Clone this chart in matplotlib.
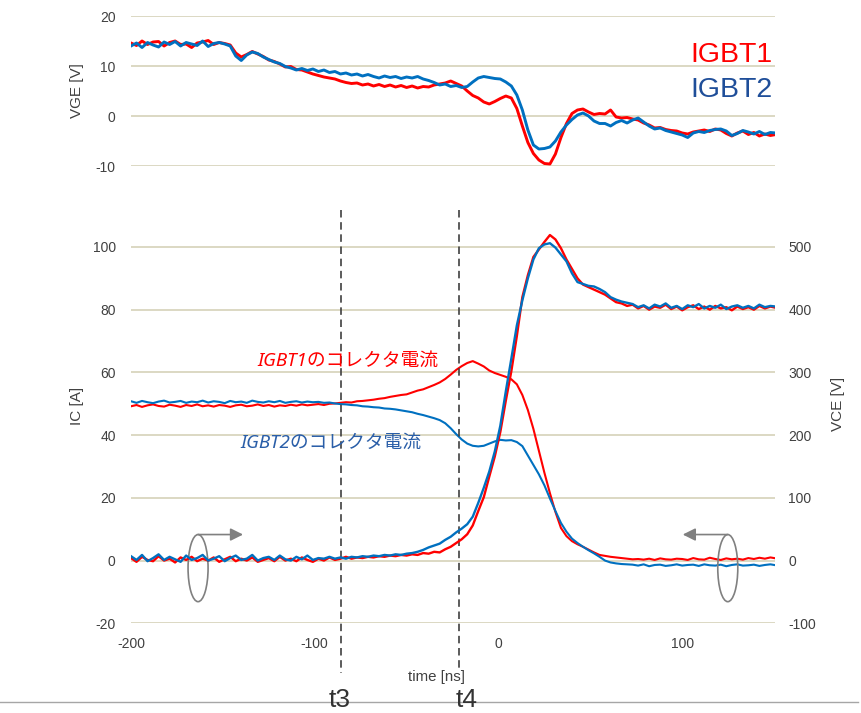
import numpy as np
import matplotlib
matplotlib.use("Agg")
import matplotlib.pyplot as plt
from matplotlib import font_manager
from matplotlib.patches import Ellipse
from matplotlib.lines import Line2D
from matplotlib import transforms

# ---------------- data ----------------
time_ns = np.arange(-200, 152, 3)  # sample grid [ns]

vge_igbt1 = [
    14.6, 14.1, 15.0, 14.3, 14.8, 14.9, 14.0, 14.7, 15.0, 14.3,
    14.4, 13.7, 14.6, 14.8, 15.1, 14.3, 14.7, 14.5, 14.2, 12.6,
    11.8, 12.3, 12.9, 12.4, 11.9, 11.2, 10.9, 10.4, 9.8, 9.9,
    9.3, 9.2, 8.8, 8.4, 8.1, 7.8, 7.6, 7.4, 7.0, 6.7,
    6.5, 6.6, 6.2, 6.4, 6.0, 6.3, 5.9, 6.2, 5.8, 6.1,
    5.7, 6.0, 5.6, 5.9, 5.8, 6.2, 6.4, 6.6, 7.0, 6.5,
    6.0, 5.0, 4.1, 3.6, 2.8, 2.4, 2.9, 3.5, 4.0, 3.6,
    1.5, -2.0, -5.3, -7.5, -8.8, -9.5, -9.6, -7.6, -4.3, -1.5,
    0.5, 1.2, 1.4, 0.8, 0.3, 0.5, 0.4, 1.2, -0.2, -0.4,
    -0.3, -0.6, -0.8, -1.4, -1.8, -2.4, -2.3, -2.7, -2.9, -3.0,
    -3.4, -3.6, -3.2, -3.0, -2.8, -3.1, -2.6, -2.8, -3.5, -4.0,
    -3.4, -3.0, -3.7, -3.3, -4.0, -3.6, -3.9, -3.7,
]
vge_igbt2 = [
    14.0, 14.6, 13.7, 14.7, 14.2, 13.8, 14.8, 14.3, 14.9, 14.0,
    14.7, 14.4, 14.1, 15.0, 13.9, 14.5, 14.7, 14.4, 14.0, 12.0,
    11.1, 12.2, 12.8, 12.5, 11.8, 11.3, 10.8, 10.5, 9.9, 9.6,
    9.2, 9.5, 9.1, 9.4, 8.9, 9.2, 8.7, 8.9, 8.4, 8.6,
    8.2, 8.4, 8.0, 8.3, 7.9, 7.6, 8.0, 7.7, 7.9, 7.5,
    7.8, 7.6, 7.9, 7.4, 7.1, 6.7, 6.2, 6.4, 5.9, 6.1,
    5.7, 5.9, 6.8, 7.6, 7.9, 7.7, 7.5, 7.4, 6.8, 6.0,
    4.2, 1.2, -2.8, -5.8, -6.6, -6.5, -6.2, -5.0, -3.2, -1.8,
    -0.7, 0.2, 0.6, 0.0, -1.0, -1.5, -1.5, -2.0, -1.3, -0.9,
    -1.4, -0.8, -0.4, -1.2, -2.0, -2.6, -2.4, -2.9, -3.2, -3.5,
    -3.8, -4.3, -3.4, -3.1, -3.3, -2.9, -2.7, -2.6, -3.0, -3.9,
    -3.5, -2.9, -3.2, -3.6, -3.1, -3.7, -3.3, -3.4,
]
ic_igbt1 = [
    49.2, 49.6, 49.0, 49.5, 49.8, 49.3, 49.1, 49.7, 49.4, 49.0,
    49.6, 49.3, 49.8, 49.2, 49.5, 49.1, 49.6, 49.4, 49.0, 49.5,
    49.7, 49.2, 49.4, 49.8, 49.3, 49.6, 49.1, 49.5, 49.3, 49.7,
    49.4, 49.8, 49.5, 49.7, 49.9, 49.6, 50.0, 50.1, 50.3, 50.5,
    50.4, 50.8, 50.9, 51.1, 51.3, 51.6, 51.8, 52.2, 52.5, 52.8,
    53.0, 53.6, 54.2, 54.6, 55.3, 56.0, 56.8, 57.9, 59.3, 60.8,
    62.0, 63.0, 63.6, 62.8, 61.9, 60.6, 59.8, 59.2, 58.6, 57.8,
    56.2, 52.8, 48.0, 42.0, 35.0, 28.0, 21.5, 15.5, 10.4, 7.8,
    6.2, 5.2, 4.4, 3.5, 2.6, 1.8, 1.5, 1.2, 1.0, 0.8,
    0.6, 0.4, 0.5, 0.3, 0.6, 0.2, 0.7, 0.4, 0.3, 0.6,
    0.5, 0.2, 0.8, 0.4, 0.3, 0.9, 0.5, 0.2, 0.7, 0.4,
    0.6, 0.3, 0.8, 0.5, 0.9, 0.6, 1.0, 0.7,
]
ic_igbt2 = [
    50.8, 50.3, 50.9, 50.5, 50.2, 50.7, 51.0, 50.4, 50.6, 50.9,
    50.3, 50.7, 50.5, 51.0, 50.4, 50.8, 50.6, 50.2, 50.9, 50.5,
    50.7, 50.3, 51.0, 50.6, 50.4, 50.8, 50.5, 50.9, 50.3, 50.6,
    50.8, 50.4, 50.7, 50.5, 50.6, 50.3, 50.4, 50.1, 49.9, 49.8,
    49.6, 49.5, 49.2, 49.1, 48.9, 48.8, 48.5, 48.4, 48.2, 47.9,
    47.6, 47.3, 46.8, 46.4, 45.9, 45.4, 44.8, 43.8, 42.2, 40.3,
    38.6, 37.3, 36.6, 36.4, 36.6, 37.3, 38.0, 38.5, 38.3, 38.4,
    37.8, 36.5, 33.5, 30.5, 27.5, 24.0, 19.8, 15.8, 12.0, 9.2,
    7.0, 5.6, 4.4, 3.3, 2.3, 1.2, 0.0, -0.6, -0.9, -1.1,
    -1.2, -1.3, -1.6, -1.2, -1.8, -1.4, -1.3, -1.7, -1.5, -1.2,
    -1.6, -1.4, -1.3, -1.7, -1.2, -1.5, -1.6, -1.3, -1.8, -1.4,
    -1.2, -1.6, -1.5, -1.3, -1.7, -1.4, -1.2, -1.5,
]
vce_igbt1 = [
    4, -2, 6, 1, -1, 7, 0, 3, -3, 5,
    1, 6, -1, 3, 0, 5, -2, 2, 6, -1,
    3, 0, 5, -2, 1, 4, -1, 6, 0, 3,
    -1, 5, 1, -2, 3, 0, 5, 1, 3, 6,
    3, 5, 4, 6, 5, 7, 6, 8, 7, 9,
    8, 10, 9, 12, 11, 14, 13, 18, 22, 28,
    34, 42, 56, 79, 101, 134, 166, 205, 255, 302,
    358, 420, 455, 484, 496, 508, 519, 512, 498, 480,
    465, 450, 440, 436, 432, 428, 424, 418, 412, 410,
    406, 408, 402, 406, 400, 405, 403, 408, 401, 405,
    399, 404, 407, 401, 405, 400, 406, 402, 404, 399,
    405, 401, 404, 400, 406, 402, 405, 403,
]
vce_igbt2 = [
    7, 1, 9, -1, 4, 10, 1, 6, 2, -2,
    8, 1, 4, 9, 0, 3, 7, -1, 4, 8,
    1, 3, 9, 0, 4, 6, 1, 8, 2, 0,
    6, 2, 8, 1, 4, 3, 6, 3, 5, 3,
    6, 5, 7, 6, 8, 7, 9, 8, 10, 9,
    11, 12, 14, 17, 21, 24, 27, 33, 38, 45,
    51, 58, 70, 92, 116, 142, 174, 215, 270, 322,
    375, 415, 450, 480, 498, 504, 506, 499, 488, 477,
    458, 444, 441, 438, 437, 433, 428, 420, 416, 413,
    411, 409, 404, 407, 402, 408, 405, 410, 403, 406,
    401, 407, 404, 409, 402, 406, 403, 408, 401, 405,
    407, 403, 406, 402, 408, 404, 406, 405,
]

vge_ticks = [-10, 0, 10, 20]
ic_ticks = [-20, 0, 20, 40, 60, 80, 100]
vce_ticks = [-100, 0, 100, 200, 300, 400, 500]
time_ticks = [-200, -100, 0, 100]
t3_ns = -85.6
t4_ns = -21.3

# ---------------- style ----------------
RED = "#ff0000"
BLUE = "#0070c0"
GRID = "#dcd8c3"
TXT = "#404040"
plt.rcParams["font.family"] = ["Liberation Sans", "DejaVu Sans"]
plt.rcParams["axes.unicode_minus"] = False

_names = {f.name for f in font_manager.fontManager.ttflist}
if "Liberation Sans Narrow" in _names:
    NARROW = ["Liberation Sans Narrow", "DejaVu Sans"]
    big_size, t_size = 22.7, 21
else:
    NARROW = ["Liberation Sans", "DejaVu Sans"]
    big_size, t_size = 20.5, 19

W, H = 862, 713
fig = plt.figure(figsize=(W / 100, H / 100), dpi=100)


def fx(p):
    return p / W


def fy(p):
    return 1 - p / H


X0, X1 = 131, 775
ax_top = fig.add_axes([fx(X0), fy(166), (X1 - X0) / W, 150 / H])
ax_bot = fig.add_axes([fx(X0), fy(623.3), (X1 - X0) / W, (623.3 - 215.6) / H])
ax_r = ax_bot.twinx()

for ax in (ax_top, ax_bot, ax_r):
    for s in ax.spines.values():
        s.set_visible(False)
    ax.set_xlim(-200, 150.5)
    ax.tick_params(length=0, labelsize=10, labelcolor=TXT)
    ax.set_axisbelow(True)

ax_top.set_ylim(-10, 20)
ax_top.set_yticks(vge_ticks)
ax_top.set_xticks([])
ax_top.tick_params(axis="y", pad=11)
ax_top.yaxis.grid(True, color=GRID, lw=1.4)

ax_bot.set_ylim(-20, 110)
ax_bot.set_yticks(ic_ticks)
ax_bot.set_xticks(time_ticks)
ax_bot.tick_params(axis="y", pad=11)
ax_bot.tick_params(axis="x", pad=10)
ax_bot.yaxis.grid(True, color=GRID, lw=1.4)

ax_r.set_ylim(-100, 550)
ax_r.set_yticks(vce_ticks)
ax_r.tick_params(axis="y", pad=9.5)

# traces
ax_top.plot(time_ns, vge_igbt1, color=RED, lw=2.1)
ax_top.plot(time_ns, vge_igbt2, color=BLUE, lw=2.1)
ax_bot.plot(time_ns, ic_igbt1, color=RED, lw=1.5)
ax_bot.plot(time_ns, ic_igbt2, color=BLUE, lw=1.5)
ax_r.plot(time_ns, vce_igbt1, color=RED, lw=1.7)
ax_r.plot(time_ns, vce_igbt2, color=BLUE, lw=1.7)

# t3 / t4 dashed markers
trans = transforms.blended_transform_factory(ax_bot.transData, fig.transFigure)
ax_bot.add_line(Line2D([t3_ns, t3_ns], [fy(210), fy(673)], transform=trans,
                       clip_on=False, color="#404040", lw=1.2,
                       ls=(0, (4.5, 2.8))))
ax_bot.add_line(Line2D([t4_ns, t4_ns], [fy(210), fy(668)], transform=trans,
                       clip_on=False, color="#404040", lw=1.2,
                       ls=(0, (4.5, 2.8))))

# ellipse + arrow annotations
GRAY = "#808080"
for cx, tip in ((-163.5, -139.0), (124.8, 100.3)):
    ax_r.add_patch(Ellipse((cx, -12), 10.9, 107, transform=ax_r.transData,
                           fill=False, ec=GRAY, lw=1.2, clip_on=False))
    ax_r.annotate("", xy=(tip, 41.5), xytext=(cx, 41.5),
                  arrowprops=dict(arrowstyle="-|>", color=GRAY, lw=1.2,
                                  mutation_scale=19, shrinkA=0, shrinkB=0))

# texts
fig.text(fx(773), fy(62), "IGBT1", ha="right", va="baseline", fontsize=big_size,
         color=RED, family=NARROW)
fig.text(fx(773), fy(97), "IGBT2", ha="right", va="baseline", fontsize=big_size,
         color="#1f4e99", family=NARROW)

jp = ["Noto Sans", "Noto Sans CJK JP", "DejaVu Sans"]
fig.text(fx(257), fy(361), "IGBT1のコレクタ電流", ha="left", va="center",
         fontsize=13.5, color=RED, family=jp, style="italic")
fig.text(fx(240), fy(443), "IGBT2のコレクタ電流", ha="left", va="center",
         fontsize=13.5, color="#2a5ea8", family=jp, style="italic")

fig.text(fx(77), fy(91), "VGE [V]", rotation=90, ha="center", va="center",
         fontsize=11, color=TXT)
fig.text(fx(77), fy(406), "IC [A]", rotation=90, ha="center", va="center",
         fontsize=11, color=TXT)
fig.text(fx(838), fy(404), "VCE [V]", rotation=90, ha="center", va="center",
         fontsize=11, color=TXT)
fig.text(fx(437), fy(677), "time [ns]", ha="center", va="center",
         fontsize=10.8, color=TXT)

fig.text(fx(340), fy(707), "t3", ha="center", va="baseline", fontsize=t_size,
         color="#333333", family=NARROW)
fig.text(fx(467), fy(707), "t4", ha="center", va="baseline", fontsize=t_size,
         color="#333333", family=NARROW)

fig.add_artist(Line2D([0, fx(858)], [fy(702), fy(702)], color="#a6a6a6",
                      lw=1.0))

fig.savefig("out.png", dpi=100)
